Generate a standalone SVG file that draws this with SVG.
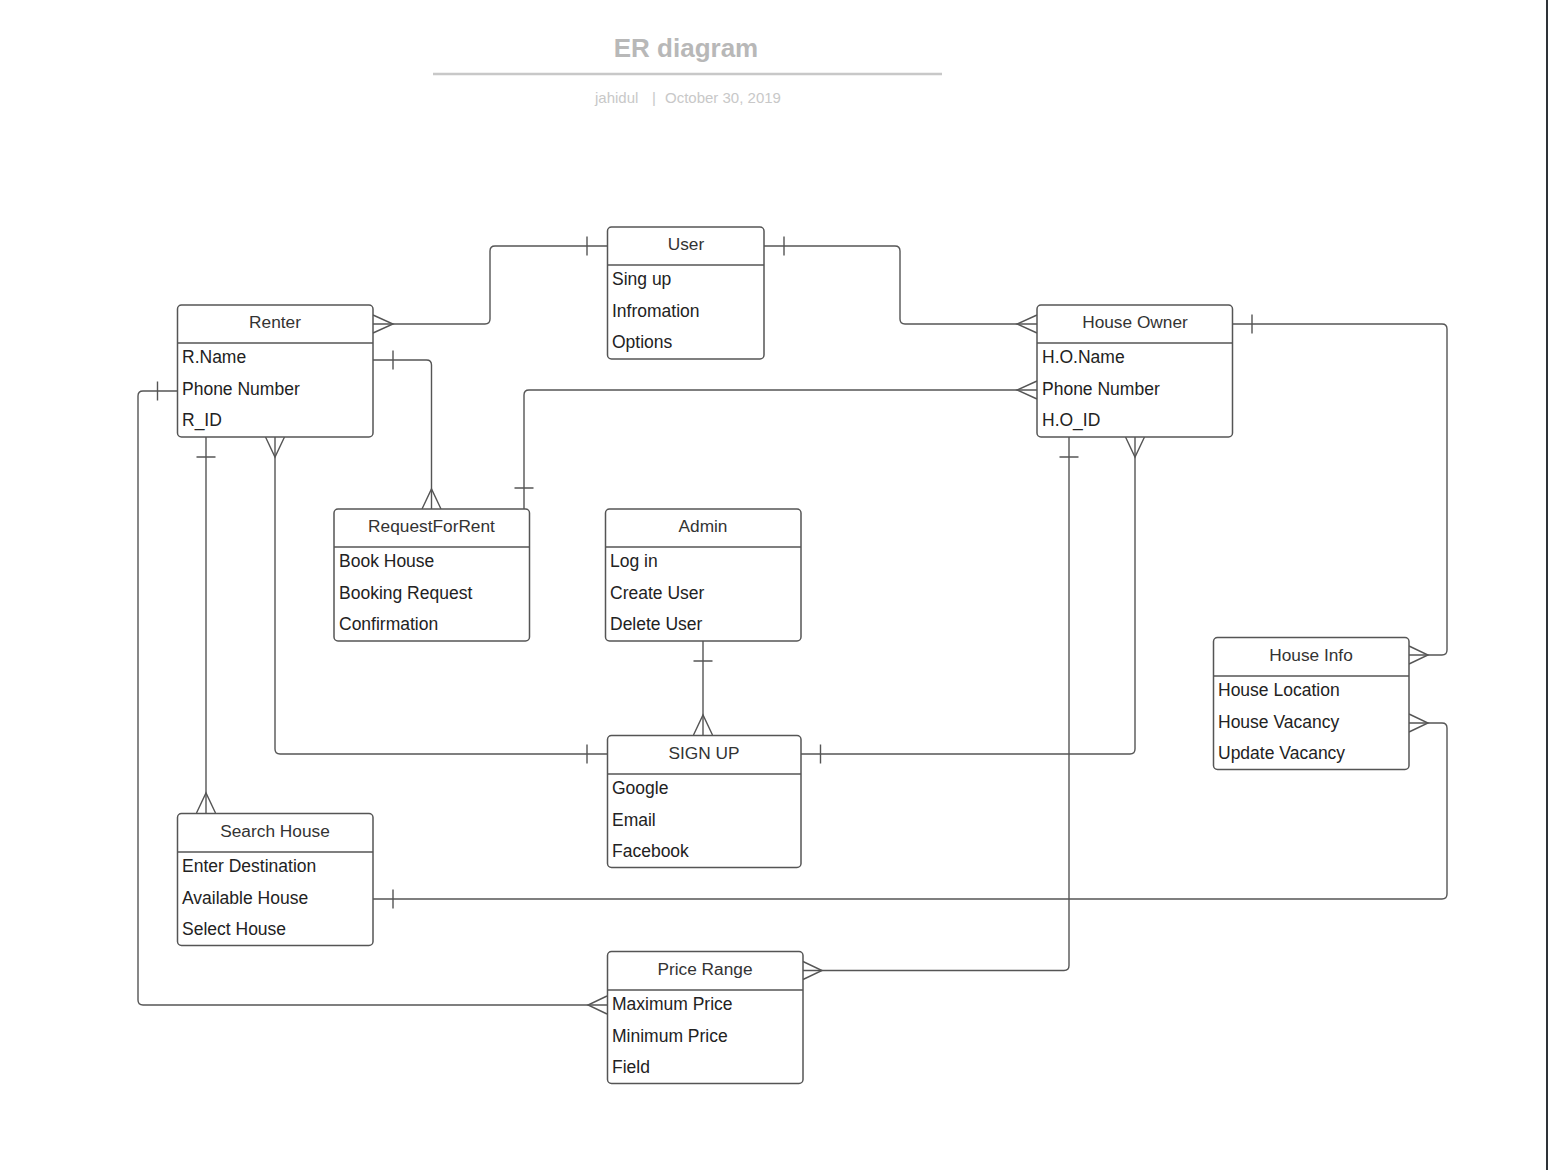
<svg xmlns="http://www.w3.org/2000/svg" width="1548" height="1170" viewBox="0 0 1548 1170">
<style>
.box{fill:#fff;stroke:#555;stroke-width:1.5}
.div{stroke:#555;stroke-width:1.5}
.hd{font-family:"Liberation Sans",Arial,sans-serif;font-size:17.3px;fill:#333;text-anchor:middle}
.rw{font-family:"Liberation Sans",Arial,sans-serif;font-size:17.5px;fill:#222}
.ln{fill:none;stroke:#555;stroke-width:1.4}
</style>
<rect x="0" y="0" width="1548" height="1170" fill="#fff"/>
<rect x="1546" y="0" width="2" height="1170" fill="#2e3338"/>
<g id="title">
<text x="686" y="57" font-family="Liberation Sans,Arial,sans-serif" font-size="26" font-weight="bold" fill="#b8b8b8" text-anchor="middle">ER diagram</text>
<line x1="433" y1="74" x2="942" y2="74" stroke="#c8c8c8" stroke-width="2.5"/>
<text x="595" y="103" font-family="Liberation Sans,Arial,sans-serif" font-size="15" fill="#c8c8c8">jahidul</text>
<text x="652" y="103" font-family="Liberation Sans,Arial,sans-serif" font-size="15" fill="#c8c8c8">|</text>
<text x="665" y="103" font-family="Liberation Sans,Arial,sans-serif" font-size="15" fill="#c8c8c8">October 30, 2019</text>
</g>
<g id="connectors" class="ln">
<path d="M373,324 H485 Q490,324 490,319 V251 Q490,246 495,246 H607"/>
<path d="M373,315 L393,324 L373,333 M587,236.5 V255.5"/>
<path d="M764,246 H895 Q900,246 900,251 V319 Q900,324 905,324 H1037"/>
<path d="M784,236.5 V255.5 M1037,315 L1017,324 L1037,333"/>
<path d="M373,360 H426.5 Q431.5,360 431.5,365 V509"/>
<path d="M393,350.5 V369.5 M422,509 L431.5,489 L441,509"/>
<path d="M1037,390 H529 Q524,390 524,395 V509"/>
<path d="M1037,381 L1017,390 L1037,399 M514.5,488 H533.5"/>
<path d="M1233,324 H1442 Q1447,324 1447,329 V650 Q1447,655 1442,655 H1409"/>
<path d="M1252,314.5 V333.5 M1409,646 L1428,655 L1409,664"/>
<path d="M1409,723 H1442 Q1447,723 1447,728 V894 Q1447,899 1442,899 H373"/>
<path d="M1409,714 L1428,723 L1409,732 M393,889.5 V908.5"/>
<path d="M177,391 H143 Q138,391 138,396 V1000 Q138,1005 143,1005 H607"/>
<path d="M157.5,381.5 V400.5 M607,996 L588,1005 L607,1014"/>
<path d="M206,437 V813"/>
<path d="M196.5,457 H215.5 M196.5,813 L206,793 L215.5,813"/>
<path d="M275,437 V749 Q275,754 280,754 H607"/>
<path d="M265.5,437 L275,457 L284.5,437 M587,744.5 V763.5"/>
<path d="M1135,437 V749 Q1135,754 1130,754 H801"/>
<path d="M1125.5,437 L1135,457 L1144.5,437 M820.5,744.5 V763.5"/>
<path d="M1069,437 V965.5 Q1069,970.5 1064,970.5 H803"/>
<path d="M1059.5,457 H1078.5 M803,961.5 L822,970.5 L803,979.5"/>
<path d="M703,641 V735"/>
<path d="M693.5,661 H712.5 M693.5,735 L703,715 L712.5,735"/>
</g>
<g id="user">
<rect class="box" x="607.5" y="227" width="156.5" height="132" rx="4"/>
<line class="div" x1="607.5" y1="265" x2="764" y2="265"/>
<text class="hd" x="686" y="250">User</text>
<text class="rw" x="612" y="285">Sing up</text>
<text class="rw" x="612" y="317">Infromation</text>
<text class="rw" x="612" y="348">Options</text>
</g>
<g id="renter">
<rect class="box" x="177.5" y="305" width="195.5" height="132" rx="4"/>
<line class="div" x1="177.5" y1="343" x2="373" y2="343"/>
<text class="hd" x="275" y="328">Renter</text>
<text class="rw" x="182" y="363">R.Name</text>
<text class="rw" x="182" y="395">Phone Number</text>
<text class="rw" x="182" y="426">R_ID</text>
</g>
<g id="house-owner">
<rect class="box" x="1037" y="305" width="195.5" height="132" rx="4"/>
<line class="div" x1="1037" y1="343" x2="1232.5" y2="343"/>
<text class="hd" x="1135" y="328">House Owner</text>
<text class="rw" x="1042" y="363">H.O.Name</text>
<text class="rw" x="1042" y="395">Phone Number</text>
<text class="rw" x="1042" y="426">H.O_ID</text>
</g>
<g id="request-for-rent">
<rect class="box" x="334" y="509" width="195.5" height="132" rx="4"/>
<line class="div" x1="334" y1="547" x2="529.5" y2="547"/>
<text class="hd" x="431.5" y="532">RequestForRent</text>
<text class="rw" x="339" y="567">Book House</text>
<text class="rw" x="339" y="599">Booking Request</text>
<text class="rw" x="339" y="630">Confirmation</text>
</g>
<g id="admin">
<rect class="box" x="605.5" y="509" width="195.5" height="132" rx="4"/>
<line class="div" x1="605.5" y1="547" x2="801" y2="547"/>
<text class="hd" x="703" y="532">Admin</text>
<text class="rw" x="610" y="567">Log in</text>
<text class="rw" x="610" y="599">Create User</text>
<text class="rw" x="610" y="630">Delete User</text>
</g>
<g id="sign-up">
<rect class="box" x="607.5" y="735.5" width="193.5" height="132" rx="4"/>
<line class="div" x1="607.5" y1="774" x2="801" y2="774"/>
<text class="hd" x="704" y="759">SIGN UP</text>
<text class="rw" x="612" y="794">Google</text>
<text class="rw" x="612" y="826">Email</text>
<text class="rw" x="612" y="857">Facebook</text>
</g>
<g id="house-info">
<rect class="box" x="1213.5" y="637.5" width="195.5" height="132" rx="4"/>
<line class="div" x1="1213.5" y1="676" x2="1409" y2="676"/>
<text class="hd" x="1311" y="661">House Info</text>
<text class="rw" x="1218" y="696">House Location</text>
<text class="rw" x="1218" y="728">House Vacancy</text>
<text class="rw" x="1218" y="759">Update Vacancy</text>
</g>
<g id="search-house">
<rect class="box" x="177.5" y="813.5" width="195.5" height="132" rx="4"/>
<line class="div" x1="177.5" y1="852" x2="373" y2="852"/>
<text class="hd" x="275" y="837">Search House</text>
<text class="rw" x="182" y="872">Enter Destination</text>
<text class="rw" x="182" y="904">Available House</text>
<text class="rw" x="182" y="935">Select House</text>
</g>
<g id="price-range">
<rect class="box" x="607.5" y="951.5" width="195.5" height="132" rx="4"/>
<line class="div" x1="607.5" y1="990" x2="803" y2="990"/>
<text class="hd" x="705" y="975">Price Range</text>
<text class="rw" x="612" y="1010">Maximum Price</text>
<text class="rw" x="612" y="1042">Minimum Price</text>
<text class="rw" x="612" y="1073">Field</text>
</g>
</svg>
